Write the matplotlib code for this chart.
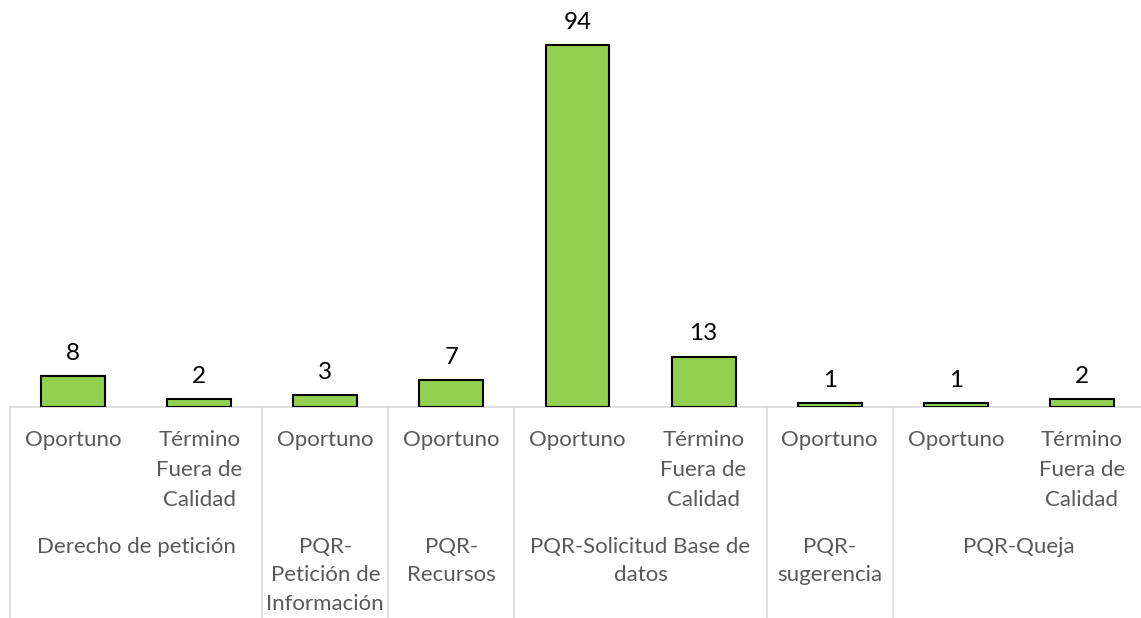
import matplotlib
matplotlib.use("Agg")
import matplotlib.pyplot as plt

values = [8, 2, 3, 7, 94, 13, 1, 1, 2]
subcats = ["Oportuno", "Término\nFuera de\nCalidad", "Oportuno", "Oportuno", "Oportuno",
           "Término\nFuera de\nCalidad", "Oportuno", "Oportuno", "Término\nFuera de\nCalidad"]
groups = ["Derecho de petición", "PQR-\nPetición de\nInformación", "PQR-\nRecursos",
          "PQR-Solicitud Base de\ndatos", "PQR-\nsugerencia", "PQR-Queja"]
group_sizes = [2, 1, 1, 2, 1, 2]

W, H = 1141, 618
fig = plt.figure(figsize=(W / 100, H / 100), dpi=100)
ax_left, ax_right = 10, 1145
ax_bottom, ax_top = 407, 22  # pixel rows from top
ax = fig.add_axes([ax_left / W, (H - ax_bottom) / H, (ax_right - ax_left) / W, (ax_bottom - ax_top) / H])
axh = ax_bottom - ax_top

plt.rcParams['font.family'] = ['Lato', 'DejaVu Sans']
FS = 16
FAM = ['Lato', 'DejaVu Sans']

x = list(range(len(values)))
ax.bar(x, values, width=0.507, color="#92D050", edgecolor="black", linewidth=1.5, zorder=3)
ax.set_xlim(-0.5, len(values) - 0.5)
ax.set_ylim(0, 100)
for s in ["top", "right", "left"]:
    ax.spines[s].set_visible(False)
ax.spines["bottom"].set_color("#D9D9D9")
ax.spines["bottom"].set_linewidth(1.2)
ax.set_xticks([])
ax.set_yticks([])

for xi, v in zip(x, values):
    ax.annotate(str(v), (xi, v), xytext=(0, 9), textcoords="offset points",
                ha="center", va="bottom", fontsize=17.5, color="black", family=FAM)

tr = ax.get_xaxis_transform()
def py(pix):
    return -(pix - ax_bottom) / axh

for xi, s in zip(x, subcats):
    ax.text(xi, py(430), s, transform=tr, ha="center", va="top", fontsize=FS,
            color="#595959", linespacing=1.62, family=FAM)

start = 0
bounds = [-0.5]
for g, n in zip(groups, group_sizes):
    center = start + (n - 1) / 2
    ax.text(center, py(537), g, transform=tr, ha="center", va="top", fontsize=FS,
            color="#595959", linespacing=1.52, family=FAM)
    start += n
    bounds.append(start - 0.5)

for b in bounds:
    ax.plot([b, b], [0, py(H + 5)], transform=tr, color="#D9D9D9", linewidth=1.2, clip_on=False)

fig.savefig("out.png", dpi=100)
